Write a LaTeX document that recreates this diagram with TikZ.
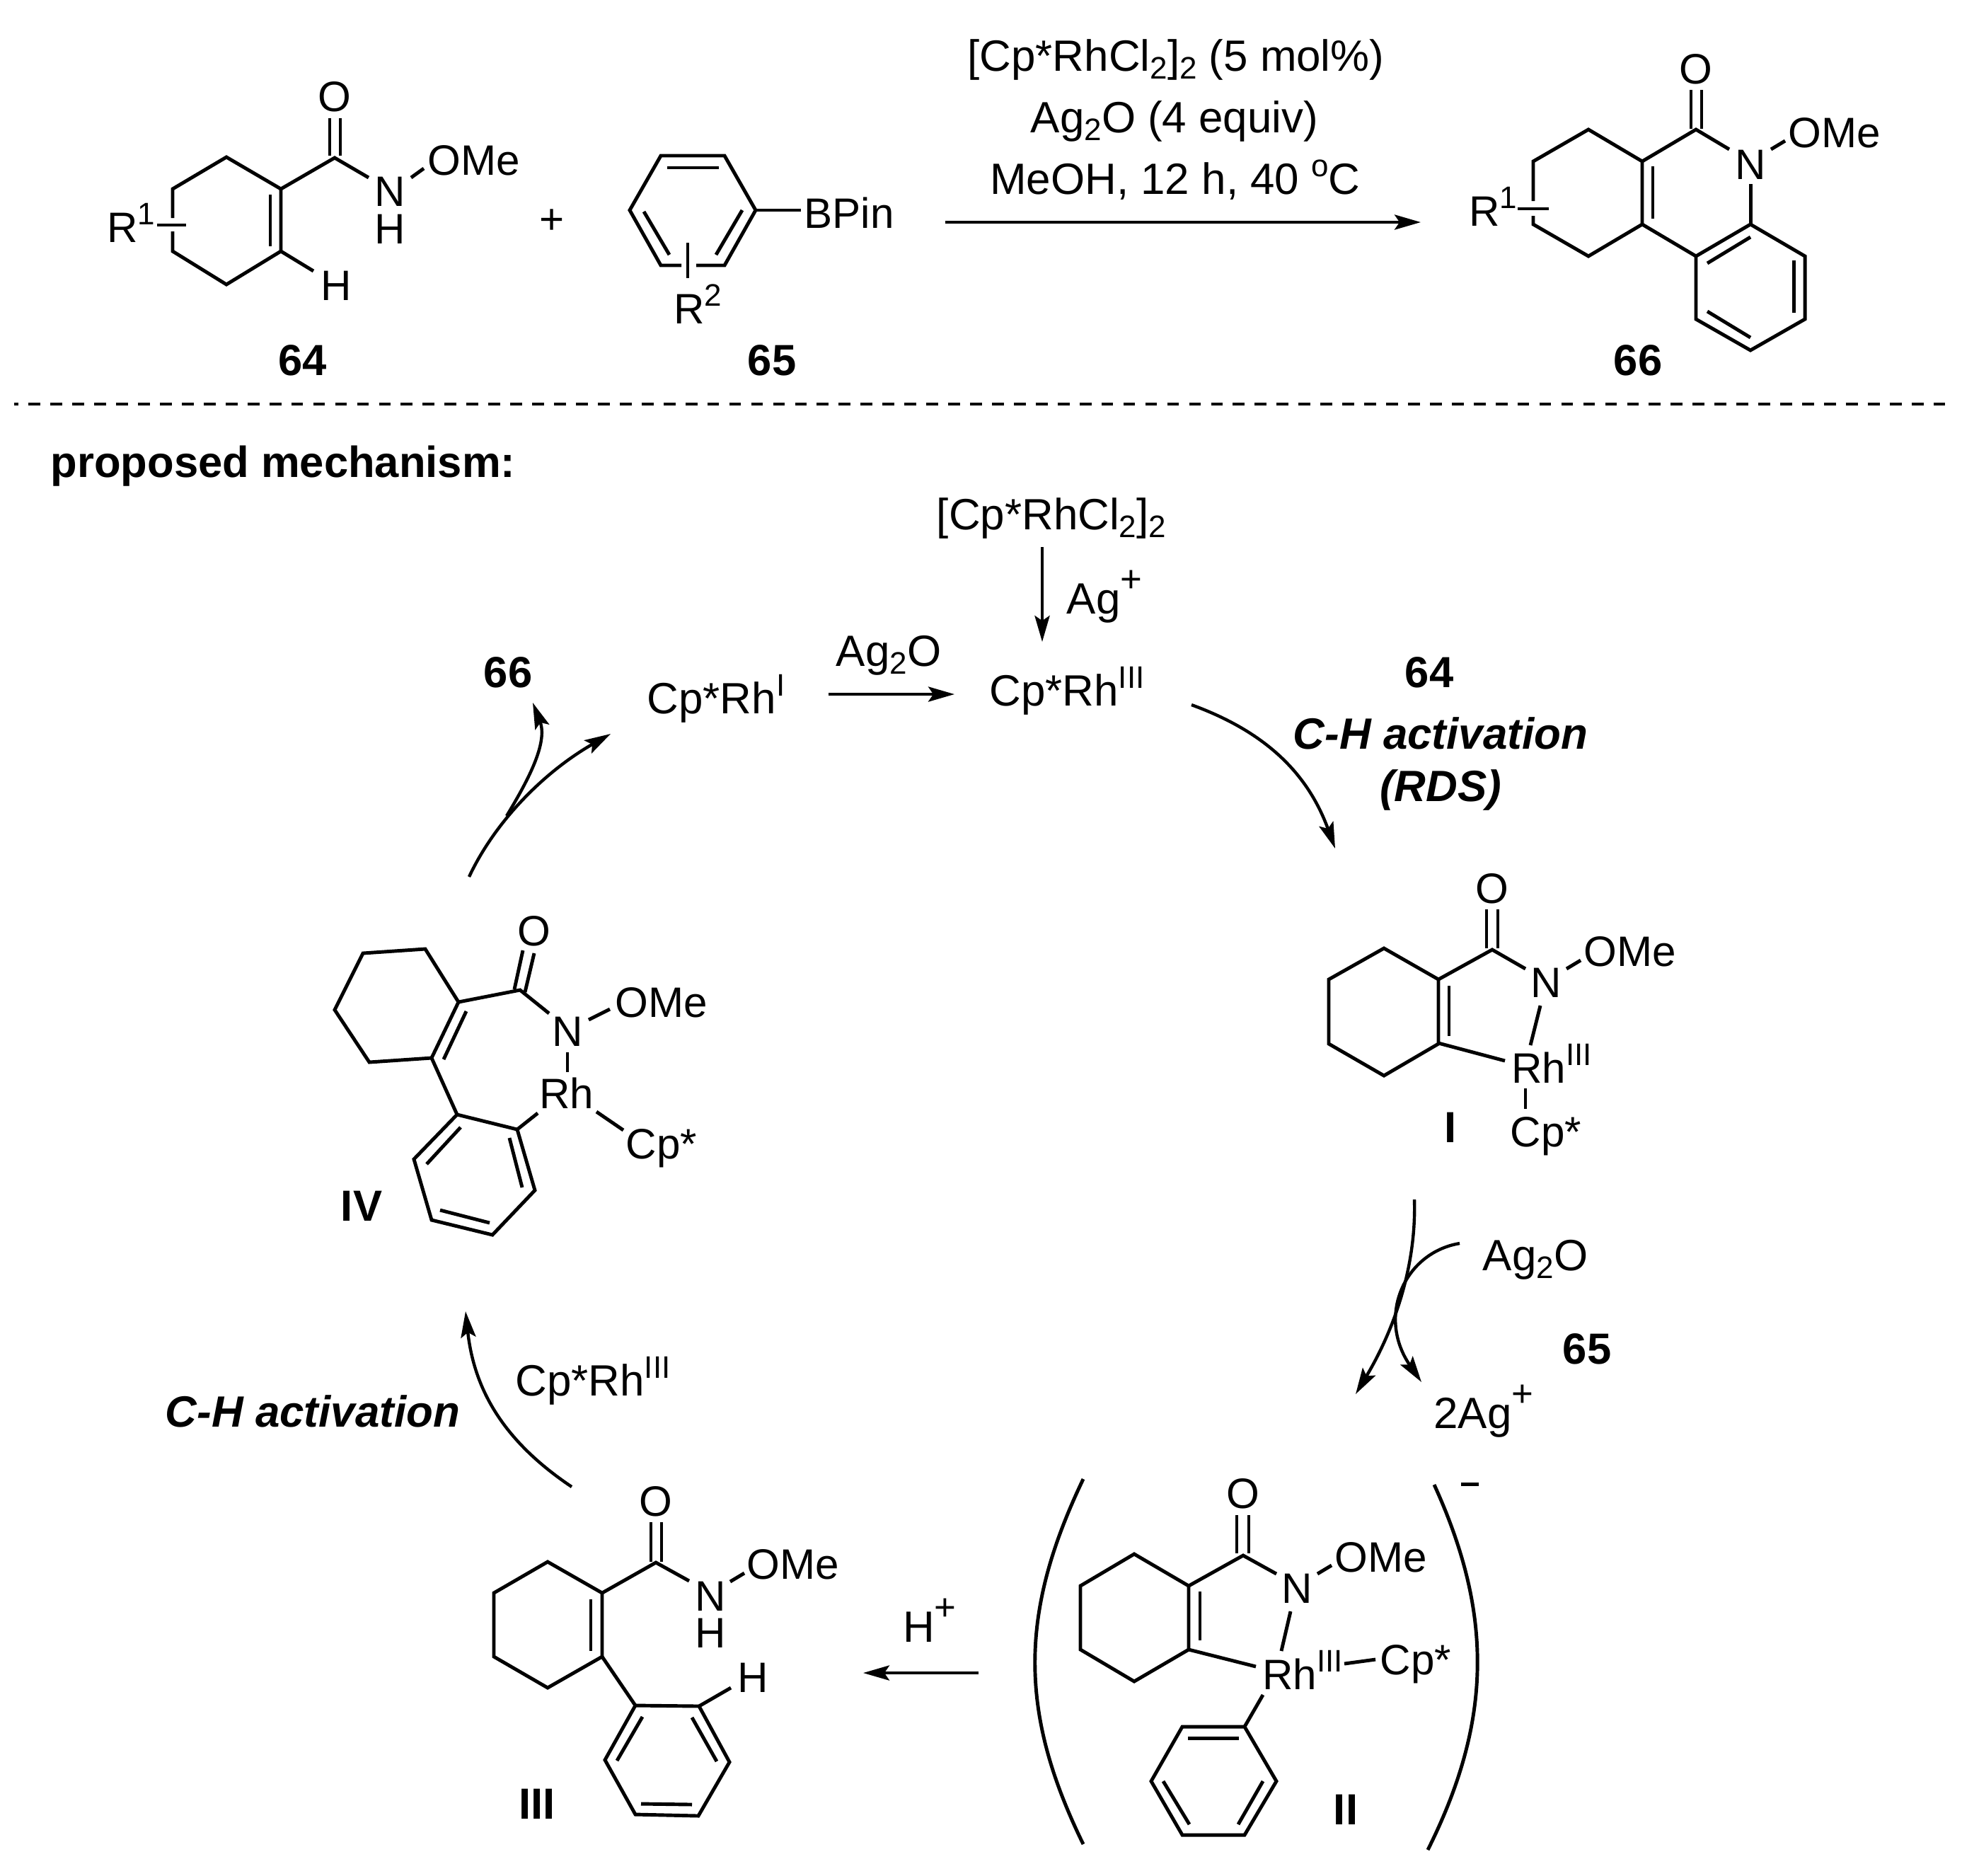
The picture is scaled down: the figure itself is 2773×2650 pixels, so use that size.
\documentclass[tikz,border=0pt]{standalone}
\usepackage{fontspec}
\setmainfont{Liberation Sans}
\usetikzlibrary{arrows.meta,calc}
\newcommand{\chemup}[1]{\raisebox{7pt}{\fontsize{12.5}{12.5}\selectfont #1}}
\newcommand{\chemdn}[1]{\raisebox{-3.3pt}{\fontsize{12.5}{12.5}\selectfont #1}}
\newcommand{\chemplus}{\raisebox{8.7pt}{\fontsize{15}{15}\selectfont +}}

\begin{document}
\begin{tikzpicture}[
    x=0.01cm,y=-0.01cm,
    font={\fontsize{17.1}{20}\selectfont},
    atm/.style={inner sep=0pt,anchor=base},
    txt/.style={inner sep=0pt,anchor=base,font={\fontsize{17.6}{20}\selectfont}},
    lbl/.style={inner sep=0pt,anchor=base,font={\fontsize{17.5}{20}\selectfont\bfseries}},
    lbli/.style={inner sep=0pt,anchor=base,font={\fontsize{17.6}{20}\selectfont\bfseries\itshape}},
    bond/.style={line width=1.4pt,line join=miter,line cap=butt},
    arr/.style={line width=1.25pt,-{Stealth[length=10.5pt,width=6pt,inset=2pt]}}
]
    \useasboundingbox (0,0) rectangle (2773,2650);

    % reactant 64
    \draw[bond] (244,308) -- (244,267) -- (320,222) -- (397,267) -- (397,355) -- (320,402) -- (244,355) -- (244,327);
    \draw[bond] (382,275) -- (382,348);
    \draw[bond] (397,267) -- (473,223) -- (521,251);
    \draw[bond] (466,167) -- (466,220);
    \draw[bond] (481,167) -- (481,220);
    \draw[bond] (581,251) -- (599,238);
    \draw[bond] (397,355) -- (443,383);
    \draw[bond] (222,318) -- (263,318);
    \node[atm] (oA) at (473,157) {O};
    \node[atm] (nA) at (551,291) {N};
    \node[atm] (hA) at (551,344) {H};
    \node[atm] (omeA) at (670,247) {OMe};
    \node[atm] (hB) at (475,424) {H};
    \node[atm] (rOne) at (185,342) {R\chemup{1}};
    \node[lbl] (lblA) at (428,530) {64};
    \node[atm] (plus) at (780,330) {+};

    % reactant 65
    \draw[bond] (963,375) -- (934,375) -- (890,297) -- (934,220) -- (1024,220) -- (1068,297) -- (1024,375) -- (984,375);
    \draw[bond] (943,237) -- (1016,237);
    \draw[bond] (1049,297) -- (1012,360);
    \draw[bond] (910,299) -- (946,360);
    \draw[bond] (1068,297) -- (1132,297);
    \draw[line width=1pt] (972,343) -- (972,393);
    \node[atm] (bpin) at (1200,322) {BPin};
    \node[atm] (rTwo) at (986,457) {R\chemup{2}};
    \node[lbl] (lblB) at (1091,530) {65};

    % conditions
    \node[txt] (condA) at (1662,100) {[Cp*RhCl\chemdn{2}]\chemdn{2} (5 mol\%)};
    \node[txt] (condB) at (1660,187) {Ag\chemdn{2}O (4 equiv)};
    \node[txt] (condC) at (1661,274) {MeOH, 12 h, 40 \chemup{o}C};
    \coordinate (rxnA) at (1336,314);
    \coordinate (rxnB) at (2008,314);
    \draw[arr] (rxnA) -- (rxnB);

    % product 66
    \draw[bond] (2167,284) -- (2167,228) -- (2245,183) -- (2321,228) -- (2321,317) -- (2245,362) -- (2167,317) -- (2167,305);
    \draw[bond] (2336,235) -- (2336,309);
    \draw[bond] (2321,228) -- (2397,183) -- (2444,211);
    \draw[bond] (2390,127) -- (2390,182);
    \draw[bond] (2405,127) -- (2405,182);
    \draw[bond] (2503,211) -- (2523,199);
    \draw[bond] (2474,260) -- (2474,317);
    \draw[bond] (2321,317) -- (2397,362);
    \draw[bond] (2397,362) -- (2474,317) -- (2551,362) -- (2551,451) -- (2474,495) -- (2397,451) -- cycle;
    \draw[bond] (2413,372) -- (2474,335);
    \draw[bond] (2535,368) -- (2535,442);
    \draw[bond] (2413,440) -- (2474,477);
    \draw[bond] (2145,295) -- (2189,295);
    \node[atm] (oB) at (2397,118) {O};
    \node[atm] (nB) at (2474,253) {N};
    \node[atm] (omeB) at (2593,208) {OMe};
    \node[atm] (rOneB) at (2110,319) {R\chemup{1}};
    \node[lbl] (lblC) at (2315,530) {66};

    \draw[line width=1.1pt,dash pattern=on 4.75pt off 4.05pt,dash phase=3pt] (20,571) -- (2755,571);
    \node[lbl,anchor=base west] (title) at (71,674) {proposed mechanism:};

    % catalytic cycle, text
    \node[txt] (rhcl) at (1486,748) {[Cp*RhCl\chemdn{2}]\chemdn{2}};
    \node[txt] (agp) at (1561,867) {Ag\chemplus};
    \node[txt] (rhThree) at (1508,997) {Cp*Rh\chemup{III}};
    \node[txt] (rhOne) at (1012,1008) {Cp*Rh\chemup{I}};
    \node[txt] (agoA) at (1256,941) {Ag\chemdn{2}O};
    \node[lbl] (prod) at (718,971) {66};
    \node[lbl] (subA) at (2020,971) {64};
    \node[lbli] (chA) at (2036,1058) {C-H activation};
    \node[lbli] (rds) at (2036,1132) {(RDS)};
    \node[txt] (agoB) at (2170,1795) {Ag\chemdn{2}O};
    \node[lbl] (subB) at (2243,1927) {65};
    \node[txt] (agTwo) at (2097,2018) {2Ag\chemplus};
    \node[txt] (hplus) at (1314,2320) {H\chemplus};
    \node[txt] (rhThreeB) at (838,1972) {Cp*Rh\chemup{III}};
    \node[lbli] (chB) at (442,2016) {C-H activation};

    % intermediate I
    \draw[bond] (1956,1340) -- (1878,1384) -- (1878,1475) -- (1956,1520) -- (2033,1475) -- (2033,1384) -- cycle;
    \draw[bond] (2048,1393) -- (2048,1464);
    \draw[bond] (2033,1384) -- (2109,1342) -- (2156,1369);
    \draw[bond] (2101,1285) -- (2101,1340);
    \draw[bond] (2117,1285) -- (2117,1340);
    \draw[bond] (2214,1369) -- (2234,1357);
    \draw[bond] (2177,1421) -- (2163,1477);
    \draw[bond] (2033,1474) -- (2127,1499);
    \draw[bond] (2156,1538) -- (2156,1567);
    \node[atm] (oI) at (2109,1276) {O};
    \node[atm] (nI) at (2185,1409) {N};
    \node[atm] (omeI) at (2304,1365) {OMe};
    \node[atm] (rhI) at (2193,1530) {Rh\chemup{III}};
    \node[atm] (cpI) at (2185,1620) {Cp*};
    \node[lbl] (lblI) at (2050,1614) {I};

    % intermediate II
    \draw[bond] (1603,2196) -- (1527,2241) -- (1527,2331) -- (1603,2376) -- (1680,2331) -- (1680,2241) -- cycle;
    \draw[bond] (1696,2249) -- (1696,2318);
    \draw[bond] (1680,2241) -- (1757,2198) -- (1804,2224);
    \draw[bond] (1748,2141) -- (1748,2195);
    \draw[bond] (1765,2141) -- (1765,2195);
    \draw[bond] (1862,2224) -- (1882,2212);
    \draw[bond] (1824,2277) -- (1811,2333);
    \draw[bond] (1680,2331) -- (1775,2355);
    \draw[bond] (1900,2351) -- (1944,2345);
    \draw[bond] (1785,2395) -- (1759,2440);
    \draw[bond] (1759,2440) -- (1671,2440) -- (1627,2517) -- (1671,2593) -- (1759,2593) -- (1804,2517) -- cycle;
    \draw[bond] (1679,2456) -- (1751,2456);
    \draw[bond] (1644,2517) -- (1681,2578);
    \draw[bond] (1785,2517) -- (1750,2578);
    \draw[bond] (1531,2090) .. controls (1440,2280) and (1440,2420) .. (1531,2606);
    \draw[bond] (2027,2098) .. controls (2110,2280) and (2110,2430) .. (2018,2614);
    \draw[bond] (2065,2097) -- (2090,2097);
    \node[atm] (oII) at (1757,2131) {O};
    \node[atm] (nII) at (1833,2265) {N};
    \node[atm] (omeII) at (1952,2221) {OMe};
    \node[atm] (rhII) at (1841,2387) {Rh\chemup{III}};
    \node[atm] (cpII) at (2001,2366) {Cp*};
    \node[lbl] (lblII) at (1902,2578) {II};

    % intermediate III
    \draw[bond] (774,2207) -- (698,2251) -- (698,2341) -- (774,2385) -- (851,2341) -- (851,2251) -- cycle;
    \draw[bond] (835,2260) -- (835,2333);
    \draw[bond] (851,2251) -- (927,2208) -- (974,2234);
    \draw[bond] (920,2151) -- (920,2207);
    \draw[bond] (935,2151) -- (935,2207);
    \draw[bond] (1032,2235) -- (1052,2223);
    \draw[bond] (851,2341) -- (898,2410);
    \draw[bond] (898,2410) -- (988,2411) -- (1031,2490) -- (987,2566) -- (898,2564) -- (855,2487) -- cycle;
    \draw[bond] (908,2426) -- (872,2488);
    \draw[bond] (978,2427) -- (1013,2489);
    \draw[bond] (906,2549) -- (978,2550);
    \draw[bond] (988,2411) -- (1033,2385);
    \node[atm] (oIII) at (927,2142) {O};
    \node[atm] (nIII) at (1004,2276) {N};
    \node[atm] (hIII) at (1004,2328) {H};
    \node[atm] (omeIII) at (1121,2231) {OMe};
    \node[atm] (hIIIb) at (1064,2391) {H};
    \node[lbl] (lblIII) at (759,2570) {III};

    % intermediate IV
    \draw[bond] (601,1341) -- (513,1347) -- (473,1427) -- (522,1501) -- (610,1495) -- (648,1416) -- cycle;
    \draw[bond] (659,1429) -- (627,1497);
    \draw[bond] (648,1416) -- (735,1399) -- (776,1432);
    \draw[bond] (727,1398) -- (739,1343);
    \draw[bond] (742,1402) -- (755,1347);
    \draw[bond] (832,1441) -- (862,1426);
    \draw[bond] (802,1487) -- (802,1515);
    \draw[bond] (610,1495) -- (646,1575);
    \draw[bond] (646,1575) -- (731,1596) -- (756,1682) -- (696,1745) -- (610,1724) -- (585,1638) -- cycle;
    \draw[bond] (651,1593) -- (603,1645);
    \draw[bond] (720,1608) -- (738,1678);
    \draw[bond] (622,1710) -- (692,1728);
    \draw[bond] (731,1596) -- (760,1573);
    \draw[bond] (843,1571) -- (881,1597);
    \node[atm] (oIV) at (755,1336) {O};
    \node[atm] (nIV) at (802,1478) {N};
    \node[atm] (omeIV) at (935,1437) {OMe};
    \node[atm] (rhIV) at (801,1566) {Rh};
    \node[atm] (cpIV) at (935,1637) {Cp*};
    \node[lbl] (lblIV) at (511,1725) {IV};

    % cycle arrows
    \draw[arr] ($(rhcl.base)+(-13,25)$) -- ($(rhThree.base)+(-35,-90)$);
    \draw[arr] ($(rhOne.base)+(159,-27)$) -- ($(rhThree.base)+(-159,-16)$);
    \draw[arr] ($(rhThree.base)+(176,-1)$) to[bend left=25] ($(oI.base)+(-222,-77)$);
    \draw[arr] ($(lblI.base)+(-51,81)$) .. controls ($(lblI.base)+(-48,176)$) and ($(lblI.base)+(-80,266)$) .. ($(agTwo.base)+(-181,-48)$);
    \draw[arr] ($(agoB.base)+(-107,-38)$) .. controls ($(agoB.base)+(-185,-25)$) and ($(agoB.base)+(-225,65)$) .. ($(agTwo.base)+(-88,-65)$);
    \draw[arr] ($(rhII.base)+(-458,-23)$) -- ($(rhII.base)+(-621,-23)$);
    \draw[arr] ($(oIII.base)+(-119,-41)$) to[bend left=25] ($(lblIV.base)+(147,128)$);
    \draw[arr] ($(oIV.base)+(-92,-97)$) .. controls ($(oIV.base)+(-55,-176)$) and ($(oIV.base)+(15,-246)$) .. ($(rhOne.base)+(-149,29)$);
    \draw[arr] ($(oIV.base)+(-39,-183)$) .. controls ($(oIV.base)+(-10,-231)$) and ($(oIV.base)+(20,-286)$) .. ($(prod.base)+(35,22)$);
\end{tikzpicture}
\end{document}
